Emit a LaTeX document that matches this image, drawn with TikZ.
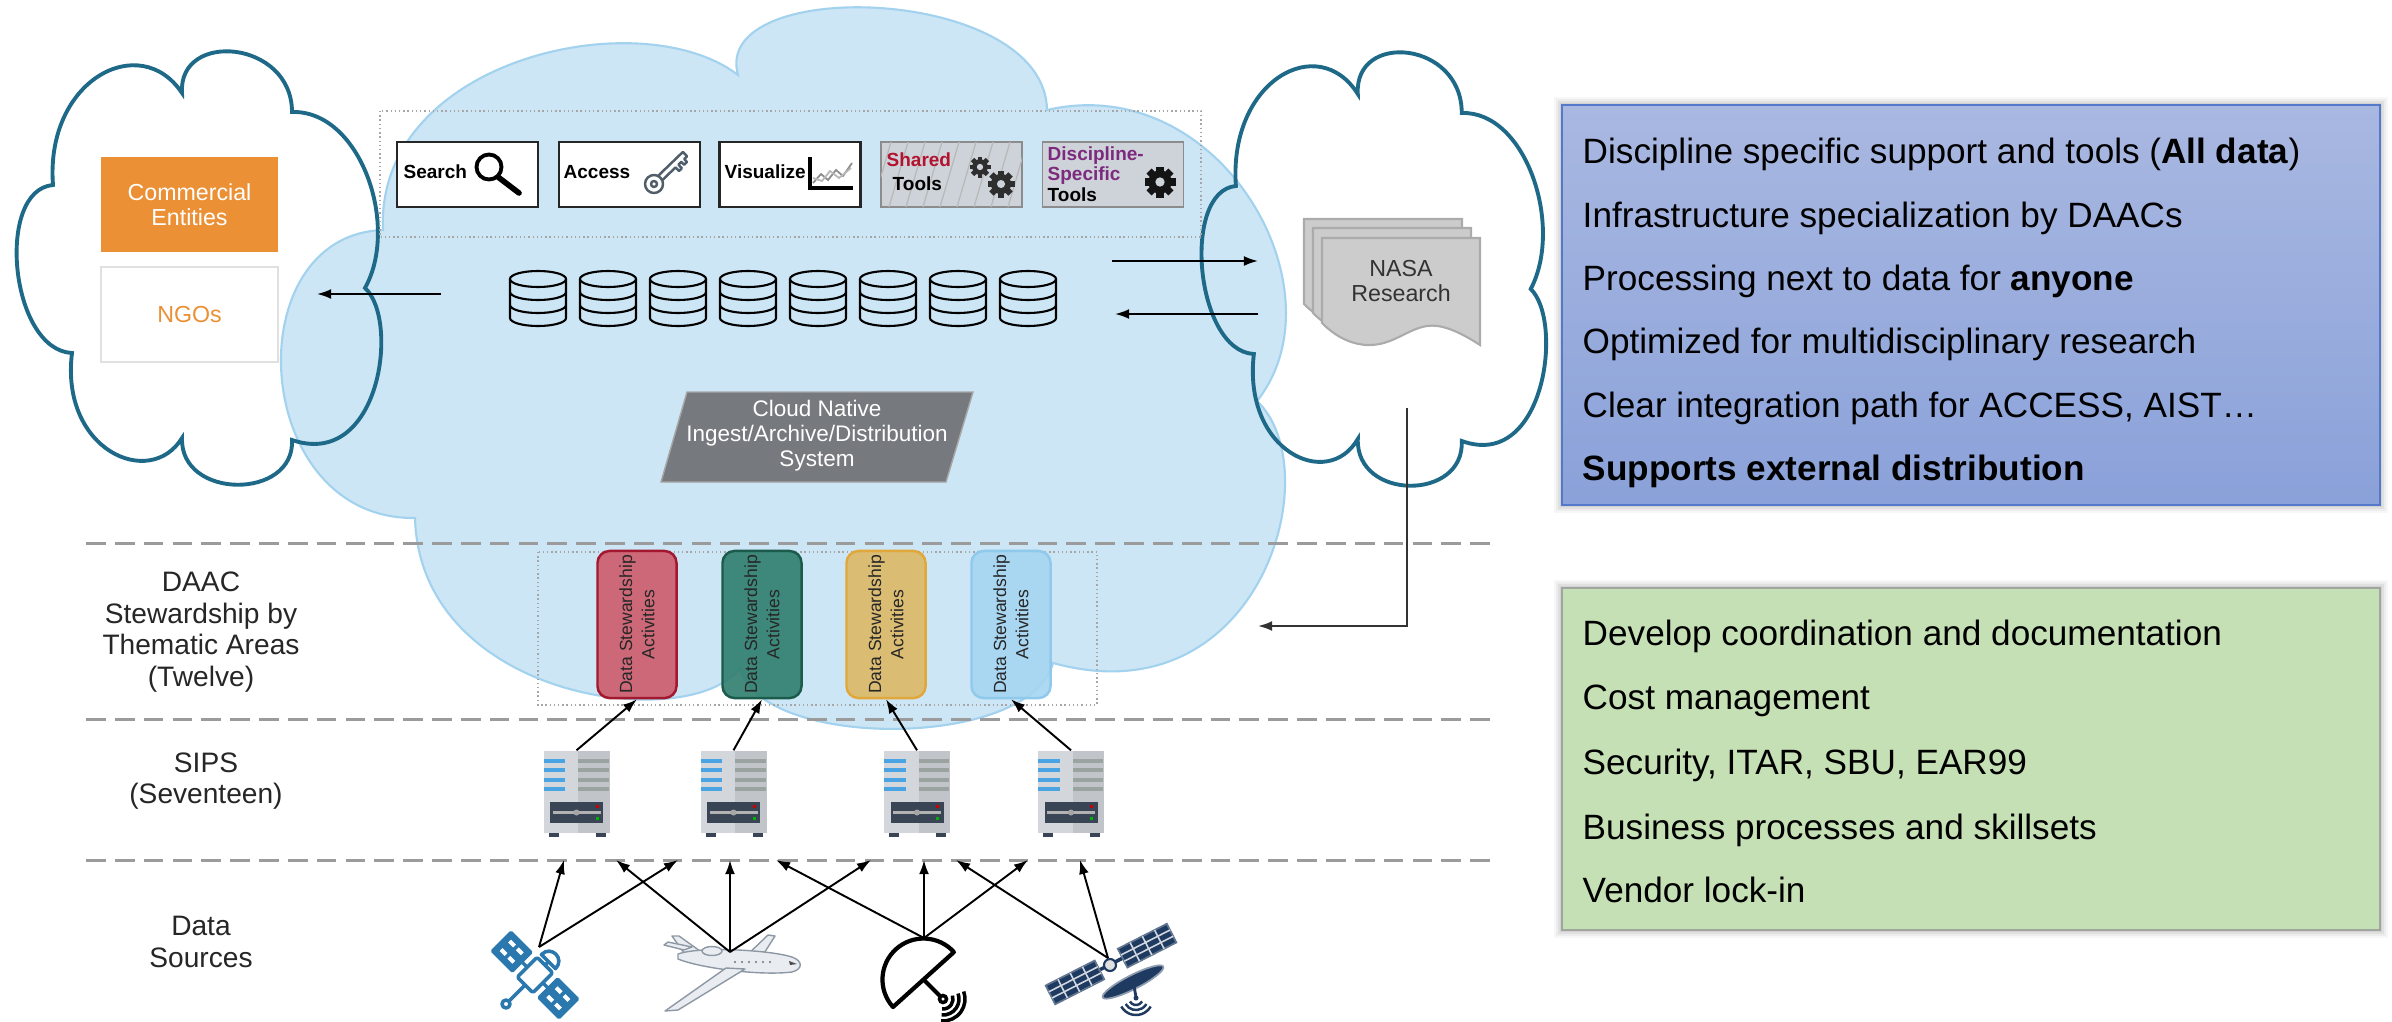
\documentclass[tikz,border=0pt]{standalone}
\usepackage{fontspec}
\setmainfont{Liberation Sans}
\usetikzlibrary{arrows.meta,calc}

\definecolor{tealline}{HTML}{1E6987}
\definecolor{cloudblue}{HTML}{CCE6F5}
\definecolor{cloudedge}{HTML}{A3D2EE}
\definecolor{orangebox}{HTML}{EC9035}
\definecolor{dashgray}{HTML}{9B9B9B}
\definecolor{dotgray}{HTML}{A6A6A6}
\definecolor{toolgray}{HTML}{CDD3D9}
\definecolor{sharedred}{HTML}{B3132F}
\definecolor{discpurple}{HTML}{7D2A7E}
\definecolor{keyslate}{HTML}{4F5E6A}
\definecolor{cnsgray}{HTML}{76797D}
\definecolor{docgray}{HTML}{CCCCCC}
\definecolor{docedge}{HTML}{ABABAB}
\definecolor{dsared}{HTML}{CD5B6B}
\definecolor{dsarededge}{HTML}{A3182F}
\definecolor{dsagreen}{HTML}{2F7E6E}
\definecolor{dsagreenedge}{HTML}{1B5B4B}
\definecolor{dsayellow}{HTML}{DDB865}
\definecolor{dsayellowedge}{HTML}{E2A73A}
\definecolor{dsablue}{HTML}{A6D5F1}
\definecolor{dsablueedge}{HTML}{8FC9EC}
\definecolor{srvlight}{HTML}{D3D6DA}
\definecolor{srvdark}{HTML}{C1C5CA}
\definecolor{srvblue}{HTML}{4AA3E2}
\definecolor{srvstripe}{HTML}{9AA39F}
\definecolor{srvpanel}{HTML}{394555}
\definecolor{satblue}{HTML}{2A78AE}
\definecolor{satnavy}{HTML}{1E3A60}
\definecolor{planefill}{HTML}{E9EDF2}
\definecolor{planeedge}{HTML}{8E98A4}
\definecolor{boxblueT}{HTML}{A9B8E1}
\definecolor{boxblueB}{HTML}{8AA1D9}
\definecolor{boxblueedge}{HTML}{5479CB}
\definecolor{boxgreen}{HTML}{C5E0B4}
\definecolor{boxgreenedge}{HTML}{A0A5A0}

\tikzset{
  % outline of the white "external" clouds, in pixel units
  cloudpath/.style={insert path={(53,185) .. controls (45,80) and (140,30) .. (182,93)
     .. controls (178,30) and (292,40) .. (292,112)
     .. controls (360,110) and (400,225) .. (365,288)
     .. controls (400,320) and (380,470) .. (292,440)
     .. controls (295,500) and (180,500) .. (182,438)
     .. controls (150,490) and (60,450) .. (72,353)
     .. controls (10,350) and (-5,190) .. (53,185) -- cycle}},
  arr/.style={-{Latex[length=4pt,width=2.8pt]}, line width=0.55pt, black},
  layerline/.style={dashgray, line width=0.85pt, dash pattern=on 5.6pt off 2.6pt},
  dotbox/.style={dotgray, line width=0.4pt, dash pattern=on 0.4pt off 0.8pt},
  toolbox/.style={draw=black!85, line width=0.8pt, fill=white, minimum width=1.41cm, minimum height=0.65cm, inner sep=0pt},
  tooltext/.style={font=\fontsize{5.4}{5.8}\selectfont\bfseries, inner sep=0pt, anchor=west},
  dsa/.style={rounded corners=0.12cm, line width=0.7pt, minimum width=1.47cm, minimum height=0.79cm, rotate=90, align=center, font=\fontsize{5}{6.3}\selectfont, text=black!85, inner sep=0pt, fill opacity=0.9, text opacity=1},
  layerlabel/.style={align=center, font=\fontsize{8}{9}\selectfont, text=black!85},
  bullet/.style={anchor=base west, font=\fontsize{10}{12}\selectfont, inner sep=0pt},
  srvnode/.style={minimum width=0.66cm, minimum height=0.86cm, inner sep=0pt},
  server/.pic={
    \fill[srvlight] (-33,-43) rectangle (1.5,39);
    \fill[srvdark] (1.5,-43) rectangle (33,39);
    \foreach \yy in {-33,-24,-14,-5} {
      \fill[srvblue] (-33,\yy-2) rectangle (-11.5,\yy+2);
      \fill[srvstripe] (1.5,\yy-2) rectangle (32,\yy+2);
    }
    \fill[srvpanel] (-26.5,8) rectangle (26.5,29);
    \draw[black!30, line width=0.6pt] (-24,18.5) -- (24,18.5);
    \fill[black!35] (0,18.5) circle[radius=0.03cm];
    \fill[red!80!black] (19,11) rectangle (22,14);
    \fill[green!70!black] (19,23) rectangle (22,26);
    \fill[srvpanel] (-28,39) rectangle (-18,43);
    \fill[srvpanel] (19,39) rectangle (29,43);
  },
  dbstack/.pic={
    \draw[line width=0.6pt] (0,-19) ellipse [x radius=0.28cm, y radius=0.08cm];
    \draw[line width=0.6pt] (-28,-19) -- (-28,20) arc[start angle=180, end angle=360, x radius=0.28cm, y radius=0.08cm] -- (28,-19);
    \draw[line width=0.6pt] (-28,-6) arc[start angle=180, end angle=360, x radius=0.28cm, y radius=0.08cm];
    \draw[line width=0.6pt] (-28,7) arc[start angle=180, end angle=360, x radius=0.28cm, y radius=0.08cm];
  },
  gear/.pic={
    \fill (0,0) circle[radius=0.075cm];
    \foreach \a in {0,45,...,315} \fill[rotate=\a] (-2.3,-10) rectangle (2.3,0);
    \fill[toolgray] (0,0) circle[radius=0.03cm];
  },
  docsheet/.pic={
    \filldraw[fill=docgray, draw=docedge, line width=0.6pt] (0,0) -- (158,0) -- (158,107)
      .. controls (135,92) and (118,86) .. (105,88)
      .. controls (85,91) and (70,108) .. (45,107)
      .. controls (25,106) and (10,95) .. (0,85) -- cycle;
  }
}

\begin{document}
\begin{tikzpicture}[x=0.01cm, y=-0.01cm]
\useasboundingbox (0,0) rectangle (2392,1021);
\fill[white] (0,0) rectangle (2392,1021);

% ---------- white external clouds (fill) ----------
\fill[white] [cloudpath];
\begin{scope}[shift={(1185.8,1)}, xscale=0.945]
  \fill[white] [cloudpath];
\end{scope}

% ---------- central cloud ----------
\filldraw[fill=cloudblue, draw=cloudedge, line width=0.6pt]
  (383,230) .. controls (375,60) and (640,0) .. (738,75)
  .. controls (710,-25) and (1045,-15) .. (1047,110)
  .. controls (1220,70) and (1345,290) .. (1257,401)
  .. controls (1330,470) and (1260,720) .. (1053,663)
  .. controls (1030,750) and (760,750) .. (740,668)
  .. controls (690,735) and (420,700) .. (415,518)
  .. controls (250,520) and (235,235) .. (383,230) -- cycle;

% ---------- external cloud outlines ----------
\draw[tealline, line width=1.1pt] [cloudpath];
\begin{scope}[shift={(1185.8,1)}, xscale=0.945]
  \draw[tealline, line width=1.1pt] [cloudpath];
\end{scope}

% ---------- layer separators ----------
\draw[layerline] (86,543) -- (1490,543);
\draw[layerline] (86,719) -- (1490,719);
\draw[layerline] (86,860) -- (1490,860);

% ---------- dotted groupings ----------
\draw[dotbox] (380,111) rectangle (1201,237);
\draw[dotbox] (538,552) rectangle (1097,705);

% ---------- tool boxes ----------
\node[toolbox] (search) at (467.5,174.5) {};
\node[toolbox] (access) at (629.5,174.5) {};
\node[toolbox] (visual) at (790,174.5) {};
\node[toolbox, fill=toolgray, draw=black!45, line width=0.5pt] (shared) at (951.5,174.5) {};
\begin{scope}
  \clip (881,142) rectangle (1022,207);
  \foreach \i in {-1,...,8} \draw[black!28, line width=0.35pt] ({872+17*\i},207) -- ++(19,-65);
\end{scope}
\node[toolbox, fill=toolgray, draw=black!45, line width=0.5pt] (disc) at (1113,174.5) {};

\node[tooltext] (searchtxt) at (403,172) {Search};
\node[tooltext] (accesstxt) at (563,172) {Access};
\node[tooltext] (visualtxt) at (724,172) {Visualize};
\node[tooltext, text=sharedred] (sharedtxt) at (886,160) {Shared};
\node[tooltext] (sharedtools) at (892,184) {Tools};
\node[tooltext, align=left] (disctxt) at (1047,174) {\textcolor{discpurple}{Discipline-}\\\textcolor{discpurple}{Specific}\\Tools};

% magnifier
\draw[line width=1.1pt] (489,167) circle[radius=0.125cm];
\draw[line width=1.6pt, line cap=round] (498,177) -- (519,193);
% key
\begin{scope}[shift={(654,184)}, rotate=44, keyslate, line width=0.7pt, line join=round]
  \draw (0,0) circle[radius=0.09cm];
  \draw (0,0) circle[radius=0.03cm];
  \draw (9,-3) -- (43,-3) -- (43,3) -- (39,3) -- (39,7) -- (35,7) -- (35,3) -- (31,3) -- (31,8) -- (27,8) -- (27,3) -- (9,3);
\end{scope}
% chart
\draw[black!45, line width=0.5pt] (813,183) -- (821,174) -- (828,180) -- (836,170) -- (843,176) -- (852,163);
\draw[black!28, line width=0.5pt] (813,178) -- (822,181) -- (830,171) -- (839,178) -- (851,168);
\draw[line width=1.1pt] (810,157) -- (810,188) -- (853,188);
% gears
\pic[color=black!82, scale=1.05] at (980,167) {gear};
\pic[color=black!82, scale=1.35] at (1001,184) {gear};
\pic[color=black!92, scale=1.55] at (1160,182) {gear};

% ---------- storage ----------
\foreach \i in {0,...,7} \pic at ({538+70*\i},298) {dbstack};

% ---------- ingest / archive / distribution system ----------
\filldraw[fill=cnsgray, draw=black!35, line width=0.4pt] (687,392) -- (973,392) -- (946,482) -- (661,482) -- cycle;
\node[text=white, align=center, font=\fontsize{6.4}{7.1}\selectfont] (cns) at (817,436) {Cloud Native\\Ingest/Archive/Distribution\\System};

% ---------- external users ----------
\node[fill=orangebox, minimum width=1.77cm, minimum height=0.95cm, inner sep=0pt, text=white, align=center, font=\fontsize{6.6}{7.1}\selectfont] (comm) at (189.5,204.5) {Commercial\\Entities};
\node[draw=black!12, line width=0.4pt, fill=white, minimum width=1.77cm, minimum height=0.95cm, inner sep=0pt, text=orangebox, font=\fontsize{6.6}{7.1}\selectfont] (ngo) at (189.5,314.5) {NGOs};

% ---------- research documents ----------
\pic at (1304,219) {docsheet};
\pic at (1313,228) {docsheet};
\pic at (1322,238) {docsheet};
\node[font=\fontsize{6.6}{7.2}\selectfont, text=black!80, align=center] (nasa) at (1401,281) {NASA\\Research};

% ---------- stewardship activities ----------
\node[dsa, draw=dsarededge, fill=dsared] (dsa1) at (637,624.5) {Data Stewardship\\Activities};
\node[dsa, draw=dsagreenedge, fill=dsagreen] (dsa2) at (762,624.5) {Data Stewardship\\Activities};
\node[dsa, draw=dsayellowedge, fill=dsayellow] (dsa3) at (886,624.5) {Data Stewardship\\Activities};
\node[dsa, draw=dsablueedge, fill=dsablue] (dsa4) at (1011,624.5) {Data Stewardship\\Activities};

% ---------- processing systems ----------
\node[srvnode] (srv1) at (576.5,794) {};
\node[srvnode] (srv2) at (733.5,794) {};
\node[srvnode] (srv3) at (917,794) {};
\node[srvnode] (srv4) at (1071,794) {};
\foreach \s in {srv1,srv2,srv3,srv4} \pic at (\s) {server};

% ---------- data sources ----------
% satellite (outline icon)
\begin{scope}[shift={(535,975)}, rotate=-45, satblue, line width=1pt, line join=round]
  \draw[rounded corners=0.02cm] (-11,-14) rectangle (11,14);
  \draw (-11,0) -- (-19,0) (11,0) -- (19,0);
  \filldraw (-47,-13) rectangle (-19,13);
  \filldraw (19,-13) rectangle (47,13);
  \foreach \px in {-42,-31,24,35} {
    \fill[white] (\px,-8) rectangle ++(7,4);
    \fill[white] (\px,4) rectangle ++(7,4);
  }
  \draw (0,-14) -- (0,-19);
  \draw (-10,-19) -- (10,-19) .. controls (10,-33) and (-10,-33) .. (-10,-19) -- cycle;
  \draw (0,14) -- (0,37);
  \draw (0,41) circle[radius=0.04cm];
\end{scope}
% aircraft
\begin{scope}[fill=planefill, draw=planeedge, line width=0.4pt, line join=round]
  \filldraw (745,957) -- (768,935) -- (775,936) -- (761,958) -- cycle;
  \filldraw (684,953) -- (672,936) -- (679,936) -- (700,951) -- cycle;
  \filldraw (684,950) -- (664,945) -- (668,942) -- (692,947) -- cycle;
  \filldraw (678,954) .. controls (700,946) and (770,950) .. (792,957)
    .. controls (803,961) and (803,969) .. (792,972)
    .. controls (760,976) and (700,968) .. (678,959) -- cycle;
  \filldraw (712,951) ellipse[x radius=0.1cm, y radius=0.045cm];
  \filldraw (726,968) -- (745,969) -- (678,1010) -- (665,1011) -- cycle;
\end{scope}
\foreach \wx in {735,742,...,770} \fill[black!55] (\wx,962) circle[radius=0.012cm];
\fill[black!70] (789,961) -- (797,964) -- (790,965) -- cycle;
% ground radar
\draw[line width=1.2pt, line join=round] (954,952) -- (893,1007) arc[start angle=222, end angle=42, radius=0.41cm] -- cycle;
\draw[line width=1.2pt] (923.5,979.5) -- (941,997);
\draw[line width=1pt] (943,999) circle[radius=0.035cm];
\foreach \r in {0.1,0.16,0.22} \draw[line width=1pt] ($(943,999)+(-95:\r cm)$) arc[start angle=-95, end angle=20, radius=\r cm];
% satellite (filled icon)
\begin{scope}[shift={(1111,964)}, rotate=27]
  \draw[satnavy, line width=1pt] (-13,0) -- (13,0);
  \filldraw[fill=satnavy, draw=satnavy!70!white, line width=0.5pt] (13,-10.5) rectangle (68,10.5);
  \filldraw[fill=satnavy, draw=satnavy!70!white, line width=0.5pt] (-68,-10.5) rectangle (-13,10.5);
  \foreach \gx in {26.75,40.5,54.25} {
    \draw[white!80!satnavy, line width=0.45pt] (\gx,-10.5) -- (\gx,10.5);
    \draw[white!80!satnavy, line width=0.45pt] (-\gx,-10.5) -- (-\gx,10.5);
  }
  \draw[white!80!satnavy, line width=0.45pt] (13,-3.5) -- (68,-3.5) (13,3.5) -- (68,3.5) (-68,-3.5) -- (-13,-3.5) (-68,3.5) -- (-13,3.5);
\end{scope}
\begin{scope}[shift={(1133,982)}, rotate=27]
  \filldraw[fill=satnavy, draw=satnavy!50!white, line width=0.5pt] (0,0) ellipse[x radius=0.34cm, y radius=0.07cm];
\end{scope}
\filldraw[fill=black!12, draw=satnavy, line width=0.6pt] (1110,965) circle[radius=0.06cm];
\draw[satnavy, line width=0.8pt] (1134,986) -- (1136,997);
\fill[satnavy] (1136,998) circle[radius=0.025cm];
\foreach \r in {0.07,0.12,0.17} \draw[satnavy, line width=0.7pt] ($(1136,998)+(-150:\r cm)$) arc[start angle=-150, end angle=-30, radius=\r cm];

% ---------- connector end points ----------
\coordinate (dbL) at (441,294);
\coordinate (extL) at (317,294);
\coordinate (dbR1) at (1112,261);
\coordinate (nasaIn) at (1258,261);
\coordinate (nasaOut) at (1258,314);
\coordinate (dbR2) at (1115,314);
\coordinate (nasaDown) at (1407,408);
\coordinate (daacIn) at (1258,626);
\coordinate (src1) at (539,947);
\coordinate (src2) at (730,952);
\coordinate (src3) at (924,938);
\coordinate (src4) at (1108,958);
\foreach \n/\tx in {1/564,2/616,3/678,4/730,5/776,6/871,7/924,8/956,9/1028,10/1080}
  \coordinate (t\n) at (\tx,860);

% ---------- connectors ----------
\draw[arr] (dbL) -- (extL);
\draw[arr] (dbR1) -- (nasaIn);
\draw[arr] (nasaOut) -- (dbR2);
\draw[arr, black!80] (nasaDown) |- (daacIn);
\draw[arr] (srv1.north) -- (dsa1.west);
\draw[arr] (srv2.north) -- (dsa2.west);
\draw[arr] (srv3.north) -- (dsa3.west);
\draw[arr] (srv4.north) -- (dsa4.west);
\draw[arr] (src1) -- (t1);
\draw[arr] (src1) -- (t3);
\draw[arr] (src2) -- (t2);
\draw[arr] (src2) -- (t4);
\draw[arr] (src2) -- (t6);
\draw[arr] (src3) -- (t5);
\draw[arr] (src3) -- (t7);
\draw[arr] (src3) -- (t9);
\draw[arr] (src4) -- (t8);
\draw[arr] (src4) -- (t10);

% ---------- layer labels ----------
\node[layerlabel] (daac) at (201,632) {DAAC\\Stewardship by\\Thematic Areas\\(Twelve)};
\node[layerlabel] (sips) at (206,781) {SIPS\\(Seventeen)};
\node[layerlabel] (srcs) at (201,942) {Data\\Sources};

% ---------- summary boxes ----------
\foreach \d/\o in {8/0.03,6/0.04,4/0.05,2/0.06} {
  \fill[black, opacity=\o] (1562-\d,105-\d) rectangle (2380+\d,505+\d);
  \fill[black, opacity=\o] (1562-\d,588-\d) rectangle (2380+\d,930+\d);
}
\node[draw=boxblueedge, top color=boxblueT, bottom color=boxblueB, line width=0.6pt, minimum width=8.18cm, minimum height=4cm, inner sep=0pt] (benefits) at (1971,305) {};
\node[draw=boxgreenedge, fill=boxgreen, line width=0.6pt, minimum width=8.18cm, minimum height=3.42cm, inner sep=0pt] (challenges) at (1971,759) {};

\node[bullet] (b1) at (1582,163) {Discipline specific support and tools (\textbf{All data})};
\node[bullet] (b2) at (1582,227) {Infrastructure specialization by DAACs};
\node[bullet] (b3) at (1582,290) {Processing next to data for \textbf{anyone}};
\node[bullet] (b4) at (1582,353) {Optimized for multidisciplinary research};
\node[bullet] (b5) at (1582,417) {Clear integration path for ACCESS, AIST…};
\node[bullet] (b6) at (1582,480) {\textbf{Supports external distribution}};

\node[bullet] (c1) at (1582,645) {Develop coordination and documentation};
\node[bullet] (c2) at (1582,709) {Cost management};
\node[bullet] (c3) at (1582,774) {Security, ITAR, SBU, EAR99};
\node[bullet] (c4) at (1582,839) {Business processes and skillsets};
\node[bullet] (c5) at (1582,902) {Vendor lock-in};
\end{tikzpicture}
\end{document}
